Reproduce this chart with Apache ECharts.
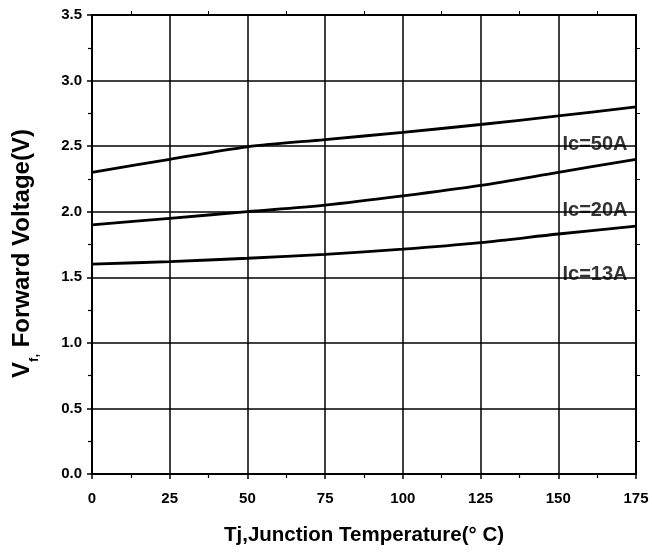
<!DOCTYPE html>
<html>
<head>
<meta charset="utf-8">
<script src="https://cdn.jsdelivr.net/npm/echarts@6/dist/echarts.min.js"></script>
<style>
  html, body { margin: 0; padding: 0; background: #fff; }
  #chart { width: 652px; height: 556px; }
</style>
</head>
<body>
<div id="chart"></div>
<script>
// Junction temperature (°C) sample points
const tj = [0, 25, 50, 75, 100, 125, 150, 175];
// Forward voltage Vf (V) for each collector current
const vf50A = [2.30, 2.40, 2.495, 2.55, 2.605, 2.665, 2.73, 2.80];
const vf20A = [1.90, 1.95, 2.00, 2.05, 2.12, 2.20, 2.30, 2.40];
const vf13A = [1.60, 1.62, 1.645, 1.675, 1.715, 1.765, 1.83, 1.89];
// Curve labels: [text, x, y]
const curveLabels = [
  ['Ic=50A', 175, 2.51],
  ['Ic=20A', 175, 2.01],
  ['Ic=13A', 175, 1.52]
];

const FONT = '"Liberation Sans", Arial, sans-serif';
const pairs = (ys) => tj.map((x, i) => [x, ys[i]]);

const chart = echarts.init(document.getElementById('chart'), null, { renderer: 'canvas' });

const lineSeries = (ys) => ({
  type: 'line',
  data: pairs(ys),
  smooth: 0.3,
  showSymbol: false,
  lineStyle: { color: '#000', width: 2.8 },
  z: 5,
  silent: true
});

chart.setOption({
  animation: false,
  backgroundColor: '#fff',
  grid: { left: 92, right: 16, top: 15, bottom: 82, show: false },
  xAxis: [{
    type: 'value', min: 0, max: 175, interval: 25,
    name: 'Tj,Junction Temperature(° C)',
    nameLocation: 'middle', nameGap: 51,
    nameTextStyle: { color: '#000', fontFamily: FONT, fontWeight: 'bold', fontSize: 20.5 },
    axisLine: { show: true, onZero: false, lineStyle: { color: '#000', width: 2 } },
    axisTick: { show: true, inside: false, length: 5, lineStyle: { color: '#000', width: 1.5 } },
    minorTick: { show: true, splitNumber: 2, length: 4, lineStyle: { color: '#000', width: 1.2 } },
    splitLine: { show: true, lineStyle: { color: '#000', width: 1.5 } },
    axisLabel: { color: '#000', fontFamily: FONT, fontWeight: 'bold', fontSize: 15, margin: 17 }
  }, {
    type: 'value', min: 0, max: 175, interval: 25, position: 'top',
    axisLine: { show: true, onZero: false, lineStyle: { color: '#000', width: 2 } },
    axisTick: { show: false },
    minorTick: { show: true, splitNumber: 2, length: 4, lineStyle: { color: '#000', width: 1 } },
    axisLabel: { show: false }, splitLine: { show: false }
  }],
  yAxis: [{
    type: 'value', min: 0, max: 3.5, interval: 0.5,
    name: '{v|V}{s|f,}{v| Forward Voltage(V)}',
    nameLocation: 'middle', nameGap: 58, nameRotate: 90,
    nameTextStyle: {
      color: '#000', fontFamily: FONT, fontWeight: 'bold', fontSize: 24,
      padding: [0, 18, 0, 0],
      rich: {
        v: { color: '#000', fontFamily: FONT, fontWeight: 'bold', fontSize: 24 },
        s: { color: '#000', fontFamily: FONT, fontWeight: 'bold', fontSize: 13, verticalAlign: 'bottom', padding: [0, 0, -7, 0] }
      }
    },
    axisLine: { show: true, onZero: false, lineStyle: { color: '#000', width: 2 } },
    axisTick: { show: true, inside: false, length: 5, lineStyle: { color: '#000', width: 1.5 } },
    minorTick: { show: true, splitNumber: 2, length: 4, lineStyle: { color: '#000', width: 1.2 } },
    splitLine: { show: true, lineStyle: { color: '#000', width: 1.5 } },
    axisLabel: {
      color: '#000', fontFamily: FONT, fontWeight: 'bold', fontSize: 15, margin: 10,
      formatter: (v) => v.toFixed(1)
    }
  }, {
    type: 'value', min: 0, max: 3.5, interval: 0.5, position: 'right',
    axisLine: { show: true, onZero: false, lineStyle: { color: '#000', width: 2 } },
    axisTick: { show: false },
    minorTick: { show: true, splitNumber: 2, length: 4, lineStyle: { color: '#000', width: 1 } },
    axisLabel: { show: false }, splitLine: { show: false }
  }],
  series: [
    lineSeries(vf50A),
    lineSeries(vf20A),
    lineSeries(vf13A),
    {
      type: 'scatter',
      data: curveLabels.map(d => ({ value: [d[1], d[2]], name: d[0] })),
      symbolSize: 1,
      itemStyle: { color: 'rgba(0,0,0,0)' },
      z: 6,
      silent: true,
      label: {
        show: true, position: 'left', distance: 8,
        formatter: (p) => p.name,
        color: '#000', fontFamily: FONT, fontWeight: 'bold', fontSize: 20
      }
    }
  ]
});
</script>
</body>
</html>
